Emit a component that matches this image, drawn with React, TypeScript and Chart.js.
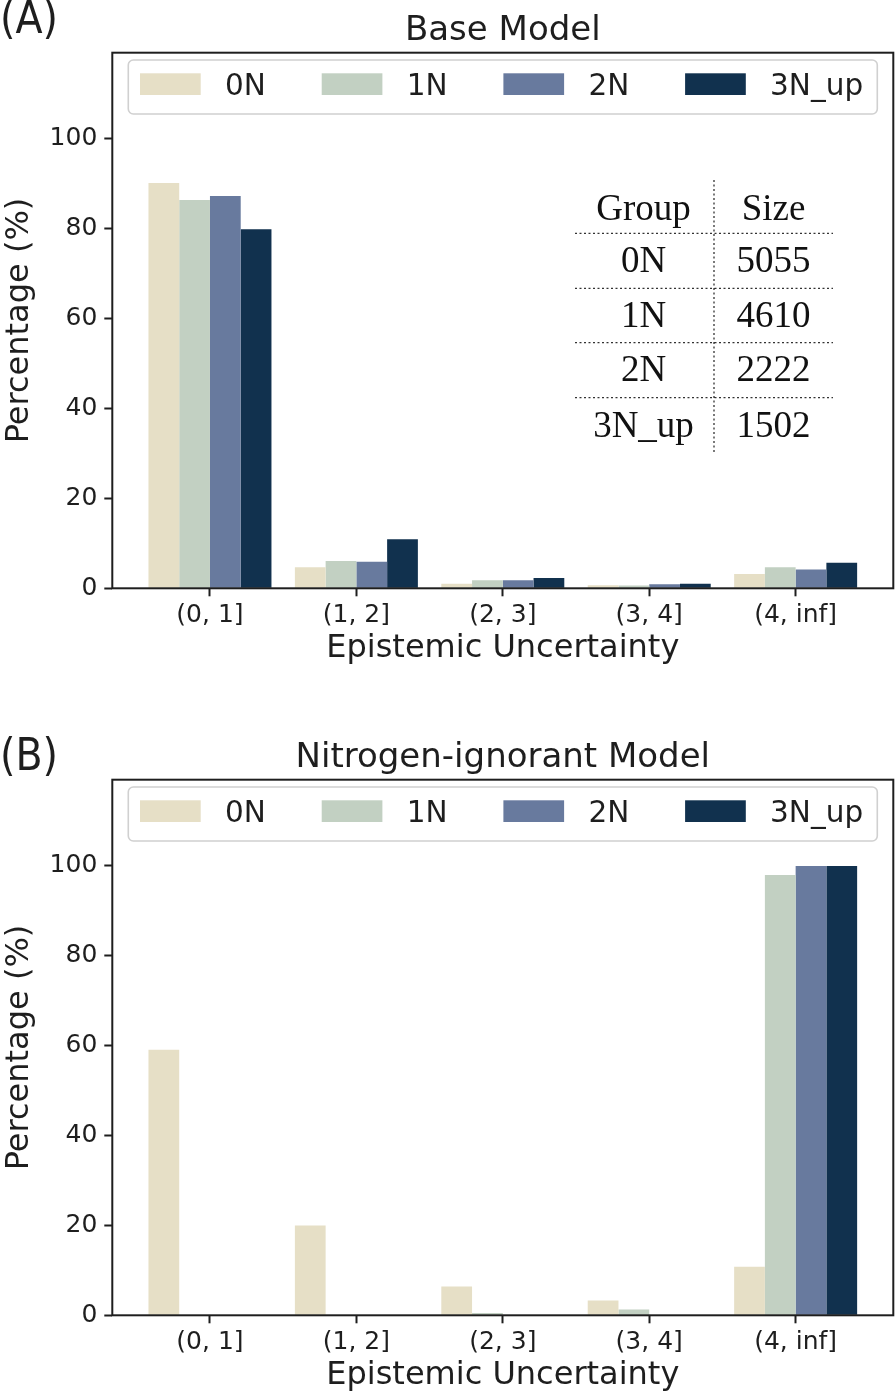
import React, { useEffect, useRef } from 'react';
import { Chart, registerables } from 'chart.js';

Chart.register(...registerables);

// ---------- data ----------
const categories = ['(0, 1]', '(1, 2]', '(2, 3]', '(3, 4]', '(4, inf]'];
const groups = ['0N', '1N', '2N', '3N_up'];
const groupColors = ['#E6DFC6', '#C2D0C2', '#687A9E', '#11314E'];

const base0N = [90.2, 4.7, 1.0, 0.7, 3.2];
const base1N = [86.4, 6.1, 1.8, 0.6, 4.7];
const base2N = [87.3, 5.9, 1.8, 0.9, 4.2];
const base3N = [79.9, 10.9, 2.3, 1.0, 5.7];

const ign0N = [59.1, 20.0, 6.4, 3.3, 10.8];
const ign1N = [0, 0, 0.5, 1.3, 98.0];
const ign2N = [0, 0, 0, 0, 100];
const ign3N = [0, 0, 0, 0, 100];

const yTicks = [0, 20, 40, 60, 80, 100];

const tableHeader = ['Group', 'Size'];
const tableGroups = ['0N', '1N', '2N', '3N_up'];
const tableSizes = ['5055', '4610', '2222', '1502'];

// ---------- styling ----------
const W = 896;
const H = 727;
const SANS = '"DejaVu Sans", Verdana, sans-serif';
const NARROW = '"Liberation Sans Narrow", "Arial Narrow", "DejaVu Sans Condensed", sans-serif';
const SERIF = '"Liberation Serif", "Times New Roman", serif';
const INK = '#1e1e1e';

const decorPlugin = {
  id: 'panelDecor',
  afterDraw(chart: any, _args: any, opts: any) {
    const ctx = chart.ctx as CanvasRenderingContext2D;
    const ca = chart.chartArea;
    ctx.save();

    // axes frame
    ctx.strokeStyle = INK;
    ctx.lineWidth = 2;
    ctx.strokeRect(ca.left, ca.top, ca.right - ca.left, ca.bottom - ca.top);

    // title
    ctx.fillStyle = INK;
    ctx.font = `34px ${SANS}`;
    ctx.textAlign = 'center';
    ctx.textBaseline = 'alphabetic';
    ctx.fillText(opts.title, (ca.left + ca.right) / 2, 40);

    // panel label
    ctx.font = `44px ${NARROW}`;
    ctx.textAlign = 'left';
    ctx.fillText(opts.panel, 0, opts.panelY);

    // legend
    const lx = ca.left + 16;
    const lr = ca.right - 16;
    const ly = ca.top + 7.3;
    const lh = 54;
    ctx.beginPath();
    (ctx as any).roundRect(lx, ly, lr - lx, lh, 5);
    ctx.fillStyle = 'rgba(255,255,255,0.8)';
    ctx.fill();
    ctx.strokeStyle = '#d0d0d0';
    ctx.lineWidth = 1.6;
    ctx.stroke();
    ctx.font = `29.5px ${SANS}`;
    ctx.textAlign = 'left';
    chart.data.datasets.forEach((ds: any, i: number) => {
      const px = ca.left + 27.7 + i * 181.7;
      ctx.fillStyle = ds.backgroundColor;
      ctx.fillRect(px, ca.top + 20.6, 60.7, 21.7);
      ctx.fillStyle = INK;
      ctx.fillText(ds.label, px + 85, ca.top + 42.3);
    });

    // table
    if (opts.table) {
      const c1 = 643.5;
      const c2 = 773.5;
      const rowBase = [220, 272.3, 326.7, 381, 436.7];
      const hLines = [233.3, 288.3, 342.7, 397.7];
      ctx.strokeStyle = '#333';
      ctx.lineWidth = 1.3;
      ctx.setLineDash([2, 2.5]);
      ctx.beginPath();
      ctx.moveTo(714, 180);
      ctx.lineTo(714, 452);
      hLines.forEach((y) => {
        ctx.moveTo(575, y);
        ctx.lineTo(833, y);
      });
      ctx.stroke();
      ctx.setLineDash([]);
      ctx.fillStyle = '#111';
      ctx.font = `37px ${SERIF}`;
      ctx.textAlign = 'center';
      ctx.fillText(tableHeader[0], c1, rowBase[0]);
      ctx.fillText(tableHeader[1], c2, rowBase[0]);
      tableGroups.forEach((g, i) => {
        ctx.fillText(g, c1, rowBase[i + 1]);
        ctx.fillText(tableSizes[i], c2, rowBase[i + 1]);
      });
    }
    ctx.restore();
  },
};

function buildConfig(series: number[][], title: string, panel: string, panelY: number, table: boolean) {
  const tickGrid = {
    display: true,
    drawOnChartArea: false,
    drawTicks: true,
    tickLength: 8,
    tickWidth: 2,
    tickColor: INK,
    color: INK,
    offset: false,
  };
  return {
    type: 'bar' as const,
    data: {
      datasets: series.map((vals, i) => ({
        label: groups[i],
        data: vals.map((v, j) => ({ x: j, y: v })),
        backgroundColor: groupColors[i],
        borderWidth: 0,
        categoryPercentage: 0.84,
        barPercentage: 1.0,
      })),
    },
    options: {
      responsive: false,
      animation: false as const,
      devicePixelRatio: 1,
      layout: { padding: { left: 0, top: 52.7, right: 2.7, bottom: 59 } },
      plugins: {
        legend: { display: false },
        title: { display: false },
        tooltip: { enabled: false },
        panelDecor: { title, panel, panelY, table },
      },
      scales: {
        x: {
          type: 'linear' as const,
          min: -0.667,
          max: 4.667,
          offset: false,
          afterBuildTicks: (s: any) => {
            s.ticks = categories.map((_, i) => ({ value: i }));
          },
          afterFit: (s: any) => {
            s.height = 79.7;
          },
          grid: tickGrid,
          border: { display: false },
          ticks: {
            autoSkip: false,
            maxRotation: 0,
            minRotation: 0,
            padding: 4,
            color: INK,
            font: { family: SANS, size: 25 },
            callback: (v: any) => categories[Math.round(Number(v))] ?? '',
          },
          title: {
            display: true,
            text: 'Epistemic Uncertainty',
            color: INK,
            padding: 0,
            font: { family: SANS, size: 32 },
          },
        },
        y: {
          type: 'linear' as const,
          min: 0,
          max: 119.2,
          afterBuildTicks: (s: any) => {
            s.ticks = yTicks.map((v) => ({ value: v }));
          },
          afterFit: (s: any) => {
            s.width = 112.3;
          },
          grid: tickGrid,
          border: { display: false },
          ticks: {
            padding: 7,
            color: INK,
            font: { family: SANS, size: 25 },
          },
          title: {
            display: true,
            text: 'Percentage (%)',
            color: INK,
            padding: 0,
            font: { family: SANS, size: 32 },
          },
        },
      },
    },
    plugins: [decorPlugin],
  };
}

function Panel(props: { series: number[][]; title: string; panel: string; panelY: number; table: boolean; top: number }) {
  const ref = useRef<HTMLCanvasElement | null>(null);
  useEffect(() => {
    if (!ref.current) return;
    const chart = new Chart(ref.current, buildConfig(props.series, props.title, props.panel, props.panelY, props.table) as any);
    return () => chart.destroy();
  }, []);
  return (
    <canvas
      ref={ref}
      width={W}
      height={H}
      style={{ position: 'absolute', left: 0, top: props.top, width: W, height: H, display: 'block' }}
    />
  );
}

export default function App() {
  return (
    <div style={{ position: 'absolute', left: 0, top: 0, width: 896, height: 1399, background: '#fff', overflow: 'hidden' }}>
      <Panel series={[base0N, base1N, base2N, base3N]} title="Base Model" panel="(A)" panelY={32.5} table={true} top={0} />
      <Panel series={[ign0N, ign1N, ign2N, ign3N]} title="Nitrogen-ignorant Model" panel="(B)" panelY={42.5} table={false} top={727} />
    </div>
  );
}
